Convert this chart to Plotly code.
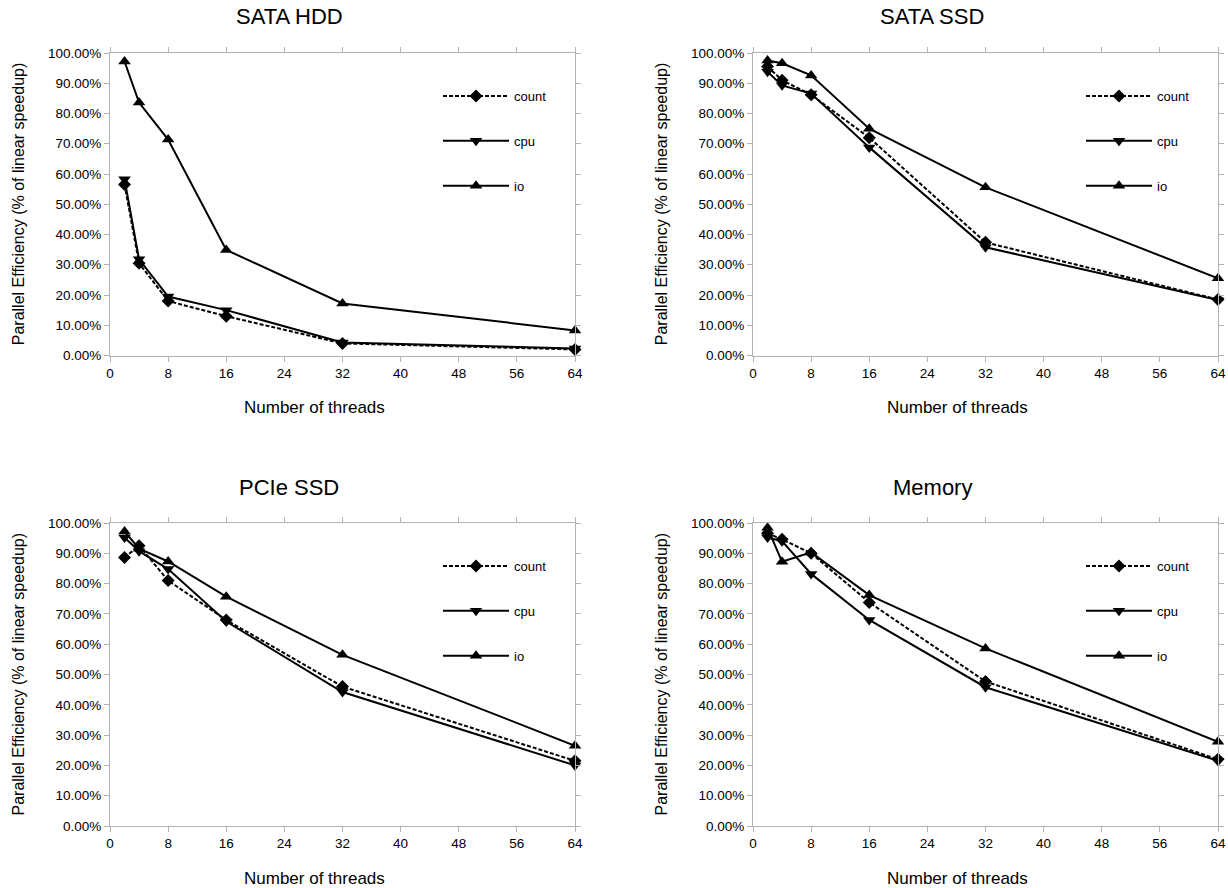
import plotly.graph_objects as go

threads = [2, 4, 8, 16, 32, 64]
panel_titles = ["SATA HDD", "SATA SSD", "PCIe SSD", "Memory"]
series_names = ["count", "cpu", "io"]
x_title = "Number of threads"
y_title = "Parallel Efficiency (% of linear speedup)"

hdd_count = [0.565, 0.305, 0.180, 0.130, 0.040, 0.020]
hdd_cpu = [0.583, 0.318, 0.195, 0.150, 0.043, 0.023]
hdd_io = [0.972, 0.836, 0.714, 0.349, 0.172, 0.083]

sata_count = [0.955, 0.910, 0.862, 0.720, 0.374, 0.185]
sata_cpu = [0.938, 0.893, 0.866, 0.688, 0.358, 0.183]
sata_io = [0.975, 0.966, 0.926, 0.750, 0.556, 0.255]

pcie_count = [0.886, 0.925, 0.810, 0.680, 0.460, 0.215]
pcie_cpu = [0.952, 0.907, 0.848, 0.675, 0.442, 0.200]
pcie_io = [0.972, 0.915, 0.873, 0.757, 0.565, 0.265]

mem_count = [0.966, 0.946, 0.900, 0.738, 0.477, 0.220]
mem_cpu = [0.952, 0.940, 0.832, 0.680, 0.458, 0.215]
mem_io = [0.984, 0.872, 0.903, 0.762, 0.586, 0.278]

x_ticks = [0, 8, 16, 24, 32, 40, 48, 56, 64]

panels = [
    [hdd_count, hdd_cpu, hdd_io],
    [sata_count, sata_cpu, sata_io],
    [pcie_count, pcie_cpu, pcie_io],
    [mem_count, mem_cpu, mem_io],
]

W, H = 1228, 888
# plot areas in pixels: (left, right, top, bottom)
areas = [
    (110, 575, 53, 355.5),
    (753, 1218, 53, 355.5),
    (110, 575, 523, 826),
    (753, 1218, 523, 826),
]
# chart (block) horizontal offsets for titles
offsets = [0, 643, 0, 643]

styles = [
    dict(dash="4px,2px", symbol="diamond", size=10),
    dict(dash="solid", symbol="triangle-down", size=11),
    dict(dash="solid", symbol="triangle-up", size=11),
]

FONT = "Liberation Sans, Arial, sans-serif"
AXIS_COLOR = "#b3b3b3"

fig = go.Figure()
layout = dict(
    width=W, height=H,
    margin=dict(l=0, r=0, t=0, b=0, autoexpand=False),
    paper_bgcolor="white", plot_bgcolor="white",
    font=dict(family=FONT, color="#000000", size=13),
    showlegend=True,
)
annotations = []


def ann(text, px, py, size, angle=0):
    return dict(
        text=text, x=px / W, y=1 - py / H, xref="paper", yref="paper",
        xanchor="center", yanchor="middle", showarrow=False, textangle=angle,
        font=dict(size=size, family=FONT, color="#000000"),
    )


for i, (data, title, area, off) in enumerate(zip(panels, panel_titles, areas, offsets)):
    l, r, t, b = area
    n = "" if i == 0 else str(i + 1)
    xa, ya = "x" + n, "y" + n
    leg = "legend" + n
    for name, vals, st in zip(series_names, data, styles):
        fig.add_trace(go.Scatter(
            x=threads, y=vals, name=name, mode="lines+markers",
            line=dict(color="black", width=2, dash=st["dash"]),
            marker=dict(symbol=st["symbol"], size=st["size"], color="black"),
            xaxis=xa, yaxis=ya, legend=leg, legendgroup=f"{i}_{name}",
            cliponaxis=False,
        ))
    layout["xaxis" + n] = dict(
        domain=[l / W, r / W], anchor=ya, range=[0, 64],
        tickvals=x_ticks, ticks="outside", ticklen=5, tickcolor=AXIS_COLOR,
        showline=True, linecolor=AXIS_COLOR, linewidth=1, mirror="ticks",
        showgrid=False, zeroline=False, automargin=False,
        tickfont=dict(size=13.5, family=FONT),
    )
    layout["yaxis" + n] = dict(
        domain=[1 - b / H, 1 - t / H], anchor=xa, range=[0, 1],
        dtick=0.1, tickformat=".2%", ticks="outside", ticklen=5, tickcolor=AXIS_COLOR,
        showline=True, linecolor=AXIS_COLOR, linewidth=1, mirror="ticks",
        showgrid=False, zeroline=False, automargin=False,
        tickfont=dict(size=13.5, family=FONT),
    )
    layout[leg] = dict(
        x=(l + 328) / W, y=1 - (t + 28) / H, xanchor="left", yanchor="top",
        bgcolor="rgba(0,0,0,0)", font=dict(size=13, family=FONT),
        tracegroupgap=25, itemwidth=66,
    )
    annotations.append(ann(title, 289 + off, t - 36, 22))
    annotations.append(ann(x_title, 314 + off, b + 52, 17))
    annotations.append(ann(y_title, 18 + off, (t + b) / 2, 16, angle=-90))

layout["annotations"] = annotations
fig.update_layout(**layout)
fig.write_html(
    "out.html",
    config={"displayModeBar": False},
    post_script="document.body.style.margin='0';document.body.style.overflow='hidden';",
)
